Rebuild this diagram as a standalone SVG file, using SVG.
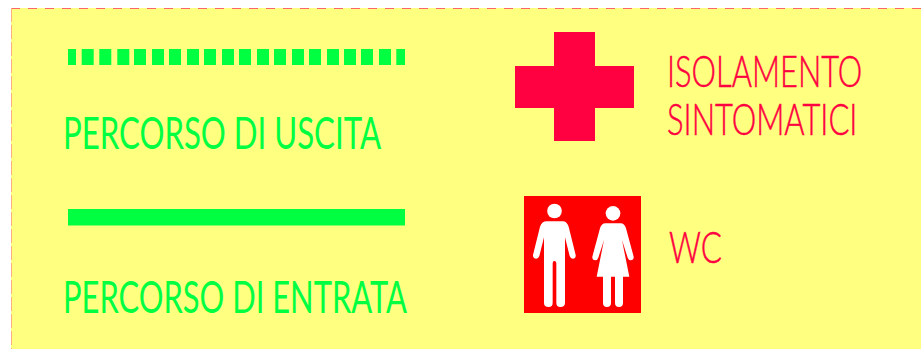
<svg xmlns="http://www.w3.org/2000/svg" width="921" height="349" viewBox="0 0 921 349">
<style>
.g{fill:#00ff40}
.r{fill:#ff0040}
text{font-family:"Lato","Liberation Sans",sans-serif;font-size:44px;font-weight:400}
.tg{fill:#00ff40}
.tr{fill:#ff0040;font-weight:300;stroke:#ff0040;stroke-width:.5}
</style>
<rect width="921" height="349" fill="#fff"/>
<rect id="background" x="11" y="8" width="910" height="341" fill="#ffff80"/>
<path d="M11 8.500H921" stroke="#ff6666" stroke-width="1" stroke-dasharray="9 8" fill="none"/>
<path d="M11.500 8V349" stroke="#ffb080" stroke-width="1" stroke-dasharray="14 3" fill="none"/>
<g id="uscita">
<path class="g" d="M68 49h8v16h-8zM81.700 49h12v16h-12zM99.300 49h12v16h-12zM117.300 49h12v16h-12zM134 49h12v16h-12zM152 49h12v16h-12zM169 49h12v16h-12zM187 49h12v16h-12zM204 49h12v16h-12zM222 49h12v16h-12zM239 49h12v16h-12zM257 49h12v16h-12zM274 49h12v16h-12zM292 49h12v16h-12zM309 49h12v16h-12zM327 49h12v16h-12zM344 49h12v16h-12zM361 49h12v16h-12zM379 49h12v16h-12zM396.300 49h8.700v16h-8.700z"/>
<text class="tg" x="63" y="149" textLength="318" lengthAdjust="spacingAndGlyphs">PERCORSO DI USCITA</text>
</g>
<g id="entrata">
<rect class="g" x="68" y="209" width="337" height="16.500"/>
<text class="tg" x="63" y="313" textLength="344" lengthAdjust="spacingAndGlyphs">PERCORSO DI ENTRATA</text>
</g>
<g id="isolamento">
<path class="r" d="M554 32H595V66H634V108H595V141H554V108H515V66H554Z"/>
<text class="tr" transform="translate(667 87) scale(.7 1)" textLength="279" lengthAdjust="spacingAndGlyphs">ISOLAMENTO</text>
<text class="tr" transform="translate(667 135) scale(.7 1)" textLength="272" lengthAdjust="spacingAndGlyphs">SINTOMATICI</text>
</g>
<g id="wc">
<rect x="524" y="196" width="117" height="117" fill="#ff0000"/>
<g transform="translate(500 180) scale(.33333)" fill="#fff">
<circle cx="163.500" cy="93" r="22"/>
<path d="M140 124H188Q200 124 206 140L227 225Q228 236 218 236Q212 236 209 228L195 172V368Q195 381 181 381Q169 381 169 368V250Q169 243 163 243Q158 243 158 250V368Q158 381 146 381Q132 381 132 368V172L118 228Q115 236 109 236Q98 236 99 225L120 140Q126 124 140 124Z"/>
<circle cx="339" cy="100" r="22"/>
<path d="M316 130H362Q373 130 378 145L401 230Q402 241 392 241Q386 241 383 233L366 180L388 290H369V368Q369 381 357 381Q345 381 345 368V290H333V368Q333 381 321 381Q309 381 309 368V290H290L312 180L295 233Q292 241 286 241Q276 241 277 230L300 145Q305 130 316 130Z"/>
</g>
<text class="tr" x="669" y="263" textLength="53" lengthAdjust="spacingAndGlyphs">WC</text>
</g>
</svg>
